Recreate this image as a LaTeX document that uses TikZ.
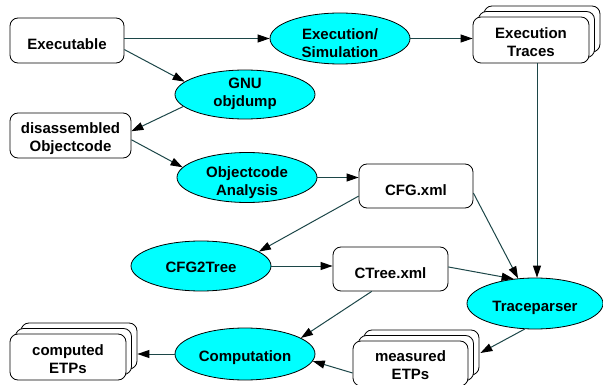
\documentclass[tikz,border=0pt]{standalone}
\usepackage{fontspec}
\setmainfont{Liberation Sans}
\usetikzlibrary{shapes.geometric,arrows.meta,shadows,calc}
\definecolor{edgecol}{RGB}{28,70,72}
\definecolor{procfill}{RGB}{0,255,255}
\begin{document}
\begin{tikzpicture}[x=1pt,y=-1pt,
  lbl/.style={font=\fontsize{15}{18}\selectfont\bfseries, align=center, inner sep=0pt},
  box/.style={draw=black, line width=0.8pt, fill=white, rounded corners=8pt, inner sep=0pt},
  stack/.style={box,
     general shadow={shadow xshift=11pt, shadow yshift=11pt, draw=black, fill=white, line width=0.8pt},
     general shadow={shadow xshift=5.5pt, shadow yshift=5.5pt, draw=black, fill=white, line width=0.8pt}},
  proc/.style={ellipse, draw=black, line width=0.8pt, fill=procfill, inner sep=0pt},
  flow/.style={draw=edgecol, line width=1pt, -{Triangle[length=12pt,width=8pt,color=black,fill=black]}}]
\path[use as bounding box] (0,0) rectangle (603,385);

% shapes
\node[box, minimum width=114pt, minimum height=45pt] (ex) at (67,40.5) {};
\node[proc, minimum width=140pt, minimum height=51pt] (es) at (340,38.5) {};
\node[stack, minimum width=116pt, minimum height=46pt] (et) at (531,40) {};
\node[proc, minimum width=140pt, minimum height=49pt] (gnu) at (245,94.5) {};
\node[box, minimum width=121pt, minimum height=45pt] (dis) at (70.5,135.5) {};
\node[proc, minimum width=140pt, minimum height=50pt] (oa) at (247,177.5) {};
\node[box, minimum width=114pt, minimum height=44pt] (cfg) at (416,186) {};
\node[proc, minimum width=140pt, minimum height=50pt] (c2t) at (201,266) {};
\node[box, minimum width=115pt, minimum height=44pt] (ctree) at (390.5,269) {};
\node[proc, minimum width=136pt, minimum height=51pt] (tp) at (535,303.5) {};
\node[proc, minimum width=140pt, minimum height=52pt] (comp) at (245,354) {};
\node[stack, minimum width=116pt, minimum height=46pt] (cetp) at (68,357) {};
\node[stack, minimum width=115pt, minimum height=45pt] (metp) at (410.5,363.5) {};

% texts
\node[lbl] (ex-t) at ([yshift=-4pt]ex) {Executable};
\node[lbl] (es-t) at ([yshift=-4.5pt]es) {Execution/\\Simulation};
\node[lbl] (et-t) at ([yshift=-2pt]et) {Execution\\Traces};
\node[lbl] (gnu-t) at ([yshift=0.5pt]gnu) {GNU\\objdump};
\node[lbl] (dis-t) at ([yshift=-3pt]dis) {disassembled\\Objectcode};
\node[lbl] (oa-t) at ([yshift=-5pt]oa) {Objectcode\\Analysis};
\node[lbl] (cfg-t) at ([yshift=-4pt]cfg) {CFG.xml};
\node[lbl] (c2t-t) at ([yshift=-1.5pt]c2t) {CFG2Tree};
\node[lbl] (ctree-t) at ([yshift=-4pt]ctree) {CTree.xml};
\node[lbl] (tp-t) at ([yshift=-4pt]tp) {Traceparser};
\node[lbl] (comp-t) at ([yshift=-3.5pt]comp) {Computation};
\node[lbl] (cetp-t) at ([yshift=-2pt]cetp) {computed\\ETPs};
\node[lbl] (metp-t) at ([yshift=-1.5pt]metp) {measured\\ETPs};

% connectors
\draw[flow] (ex.east |- es.west) -- (es.west);
\draw[flow] (es.east) -- (et.west |- es.east);
\draw[flow] (ex.-9.5) -- (gnu.168);
\draw[flow] (gnu.191) -- (dis.4.3);
\draw[flow] (dis.-4.3) -- (oa.171.5);
\draw[flow] (oa.east) -- (cfg.west |- oa.east);
\draw[flow] (cfg.190.9) -- (c2t.14);
\draw[flow] (c2t.east) -- (ctree.west |- c2t.east);
\draw[flow] (cfg.-7) -- (tp.124);
\draw[flow] ([xshift=2pt]tp.north |- et.south) -- ([xshift=2pt]tp.north);
\draw[flow] (ctree.2.5) -- (tp.131);
\draw[flow] (ctree.-130) -- (comp.16);
\draw[flow] (tp.-112.5) -- ([shift={(12pt,10.5pt)}]metp.east);
\draw[flow] ([yshift=-9.5pt]metp.west) -- (comp.-6);
\draw[flow] (comp.west) -- ([xshift=11pt]cetp.east |- comp.west);
\end{tikzpicture}
\end{document}
